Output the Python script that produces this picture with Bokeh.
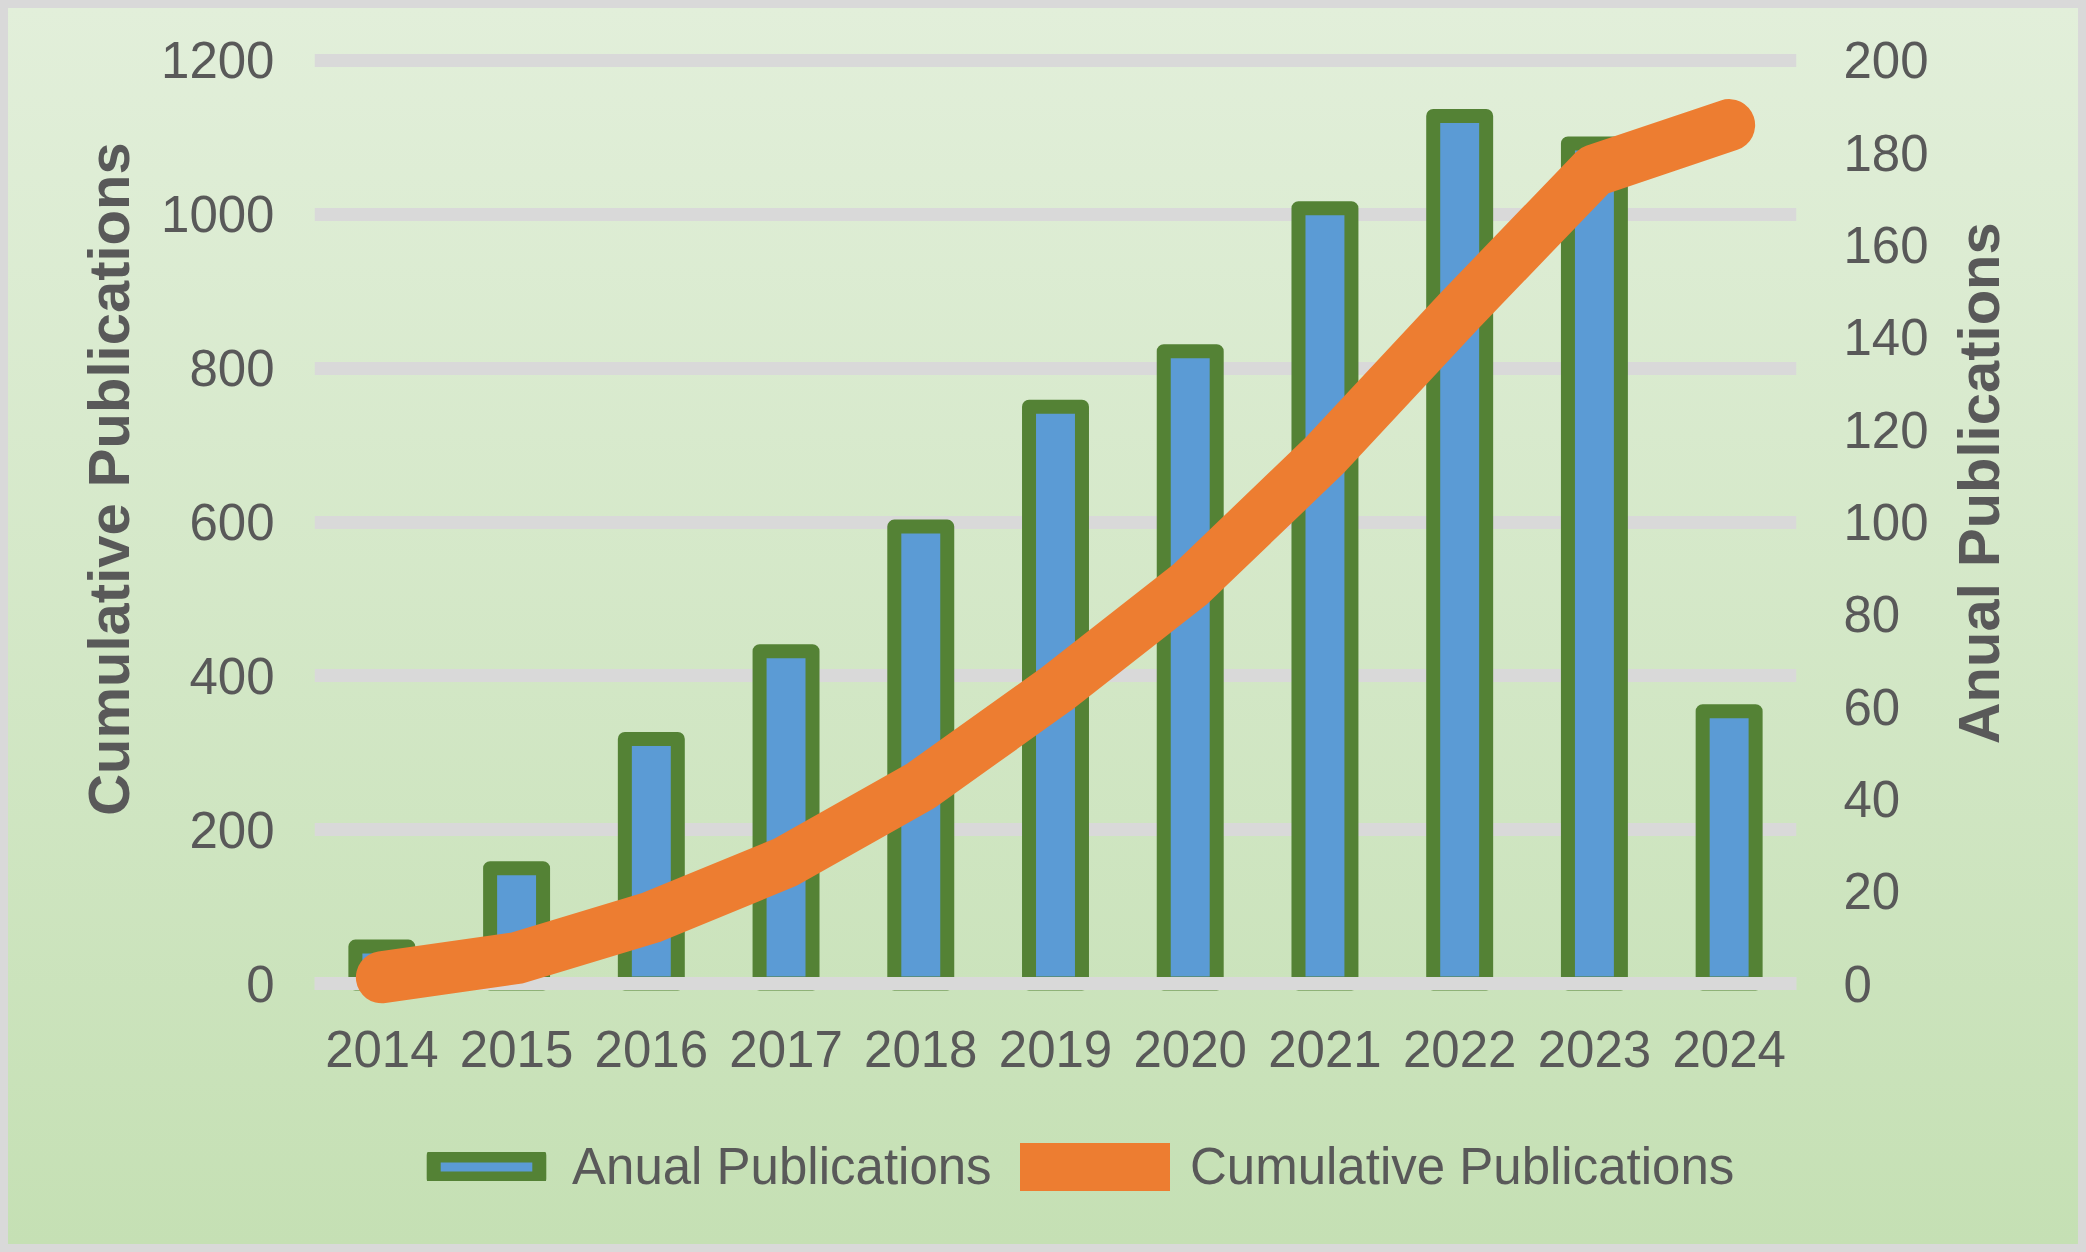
import math
from bokeh.plotting import figure
from bokeh.layouts import column, row
from bokeh.models import (FactorRange, Range1d, LinearAxis, FixedTicker, Legend,
                          LegendItem, ColumnDataSource)
from bokeh.core.properties import value
from bokeh.embed import file_html
from bokeh.resources import INLINE

# ---- data ----
years = ["2014", "2015", "2016", "2017", "2018", "2019", "2020", "2021", "2022", "2023", "2024"]
annual = [8, 25, 53, 72, 99, 125, 137, 168, 188, 182, 59]
cumulative = [8, 33, 86, 158, 257, 382, 519, 687, 875, 1057, 1116]
left_ticks = [0, 200, 400, 600, 800, 1000, 1200]
right_ticks = [0, 20, 40, 60, 80, 100, 120, 140, 160, 180, 200]
left_title = "Cumulative Publications"
right_title = "Anual Publications"
bar_label = "Anual Publications"
line_label = "Cumulative Publications"

FONT = "Liberation Sans"
TXT = "#595959"
NB = "\u00a0"
BAR_FILL, BAR_LINE, LINE_COL, GRID = "#5B9BD5", "#548235", "#ED7D31", "#D9D9D9"

src = ColumnDataSource(dict(year=years, annual=annual, cumulative=cumulative))


def clear(fig):
    fig.background_fill_alpha = 0
    fig.border_fill_alpha = 0
    fig.outline_line_color = None


# ---------------- main chart ----------------
MW, MH = 1936, 1100
p = figure(width=MW, height=MH, title=None,
           x_range=FactorRange(factors=years, range_padding=0, factor_padding=0),
           y_range=Range1d(-50.7, 1215.6),
           output_backend="svg", toolbar_location=None,
           min_border_left=306, min_border_right=148,
           min_border_top=40, min_border_bottom=86)
p.extra_y_ranges = {"right": Range1d(-50.7 / 6, 1215.6 / 6)}
clear(p)

p.yaxis.ticker = FixedTicker(ticks=left_ticks)
right_axis = LinearAxis(y_range_name="right", ticker=FixedTicker(ticks=right_ticks))
p.add_layout(right_axis, "right")
for ax in p.axis:
    ax.axis_line_color = None
    ax.major_tick_line_color = None
    ax.minor_tick_line_color = None
    ax.major_tick_in = 0
    ax.major_tick_out = 0
    ax.major_label_text_font = FONT
    ax.major_label_text_font_size = "51px"
    ax.major_label_text_color = TXT

left_axis = p.yaxis[0]
left_axis.major_label_standoff = 40
left_axis.axis_label = NB * 7 + left_title
left_axis.axis_label_standoff = 17
left_axis.axis_label_text_font = FONT
left_axis.axis_label_text_font_style = "bold"
left_axis.axis_label_text_font_size = "58px"
left_axis.axis_label_text_color = TXT

right_axis.major_label_standoff = 47
p.xaxis[0].major_label_standoff = 8

p.xgrid.visible = False
p.ygrid.grid_line_color = GRID
p.ygrid.grid_line_width = 13

bars = p.vbar(x="year", top="annual", width=0.393, source=src, y_range_name="right",
              fill_color=BAR_FILL, line_color=BAR_LINE, line_width=14, line_join="round")
p.hspan(y=[0], line_color=GRID, line_width=13)
line = p.line(x="year", y="cumulative", source=src, line_color=LINE_COL, line_width=52,
              line_cap="round", line_join="round")

# ---------------- right axis title ----------------
RW = 2070 - MW
rt = figure(width=RW, height=MH, title=None, x_range=Range1d(0, RW), y_range=Range1d(0, MH),
            x_axis_type=None, y_axis_type=None, output_backend="svg",
            toolbar_location=None, min_border=0)
clear(rt)
rt.grid.visible = False
rt.text(x=[34], y=[609], text=[right_title], angle=math.pi / 2,
        text_align="center", text_baseline="middle", text_font=value(FONT),
        text_font_style="bold", text_font_size=value("58px"), text_color=TXT)

# ---------------- legend strip ----------------
LH = 1236 - MH
lg = figure(width=2070, height=LH, title=None, x_range=Range1d(0, 1), y_range=Range1d(0, 1),
            x_axis_type=None, y_axis_type=None, output_backend="svg",
            toolbar_location=None, min_border=0)
clear(lg)
lg.grid.visible = False
# legend keys: proxy renderers with no drawable data (NaN), styled like the series
NAN = float("nan")
key_bar = lg.vbar(x=[NAN], top=[NAN], bottom=[NAN], width=0.393, fill_color=BAR_FILL,
                  line_color=BAR_LINE, line_width=14, line_join="round")
key_line = lg.line(x=[NAN, NAN], y=[NAN, NAN], line_color=LINE_COL, line_width=52,
                   line_cap="round", line_join="round")

common = dict(orientation="horizontal", padding=0, margin=0, border_line_color=None,
              background_fill_alpha=0, label_text_font=FONT,
              label_text_font_size="51px", label_text_color=TXT)
leg1 = Legend(items=[LegendItem(label=bar_label, renderers=[key_bar])],
              location=(412, 48), glyph_width=132, glyph_height=29, label_standoff=20, **common)
leg2 = Legend(items=[LegendItem(label=line_label, renderers=[key_line])],
              location=(1012, 48), glyph_width=150, glyph_height=48, label_standoff=20, **common)
lg.add_layout(leg1)
lg.add_layout(leg2)

layout = column(row(p, rt, spacing=0), lg, spacing=0)
layout.styles = {"background": "linear-gradient(to bottom, #E2EFDA, #C5E0B4)"}
try:
    from bokeh.models import GlobalInlineStyleSheet
    layout.stylesheets = [GlobalInlineStyleSheet(
        css="html, body { background: #D9D9D9 !important; } body { padding: 8px !important; margin: 0 !important; }")]
except Exception:
    pass

open("out.html", "w").write(file_html(layout, INLINE))
